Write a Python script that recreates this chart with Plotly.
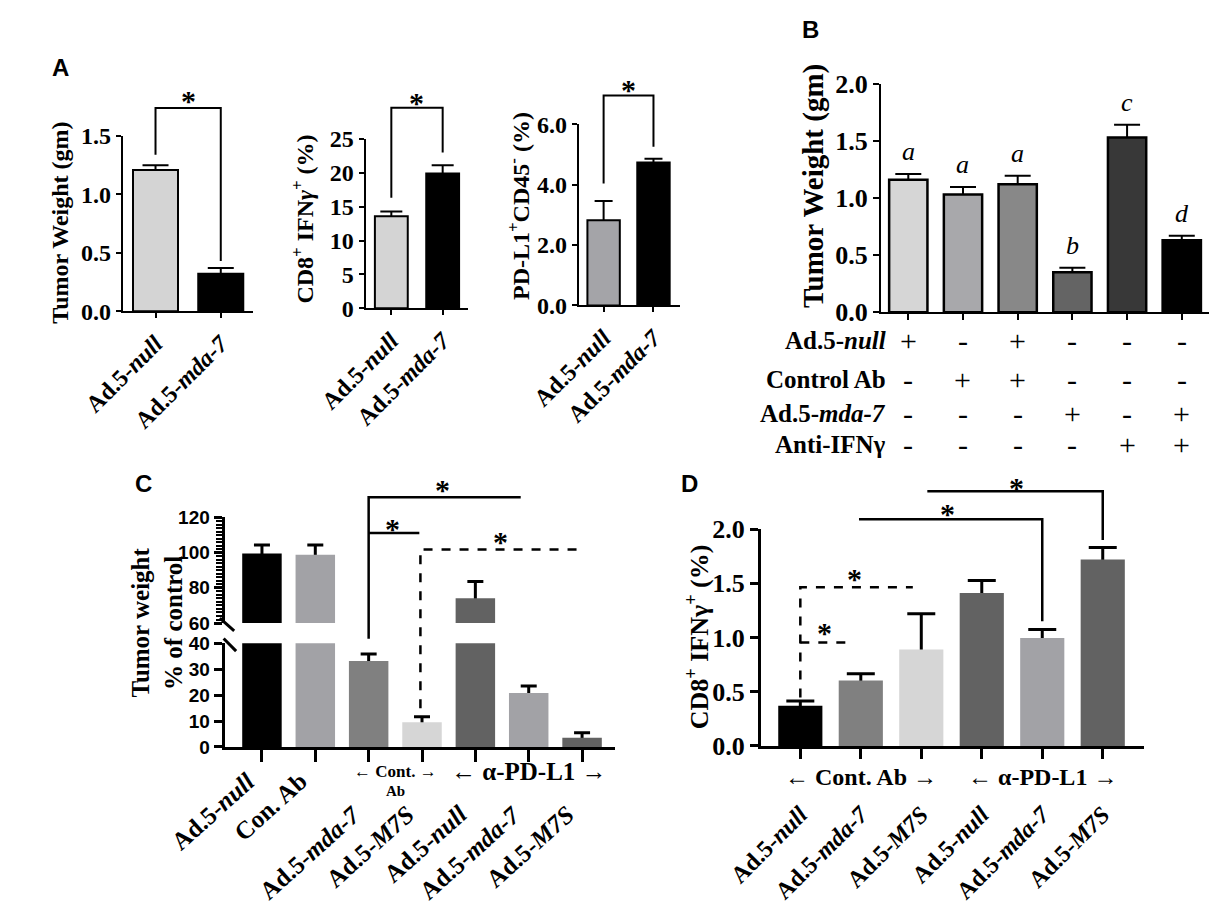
import plotly.graph_objects as go

W, H = 1212, 913
SERIF = "Liberation Serif"
SANS = "Liberation Sans"

# ---------------- data ----------------
a_groups = ["Ad.5-<i>null</i>", "Ad.5-<i>mda-7</i>"]
a_weight = [1.21, 0.32]
a_weight_err = [0.04, 0.05]
a_cd8 = [13.6, 19.9]
a_cd8_err = [0.7, 1.2]
a_pdl1 = [2.82, 4.74]
a_pdl1_err = [0.64, 0.12]

b_weight = [1.16, 1.03, 1.12, 0.35, 1.53, 0.63]
b_weight_err = [0.05, 0.065, 0.075, 0.04, 0.11, 0.04]
b_letters = ["a", "a", "a", "b", "c", "d"]
b_rows = ["Ad.5-<i>null</i>", "Control Ab", "Ad.5-<i>mda-7</i>", "Anti-IFNγ"]
b_table = [
    ["+", "-", "+", "-", "-", "-"],
    ["-", "+", "+", "-", "-", "-"],
    ["-", "-", "-", "+", "-", "+"],
    ["-", "-", "-", "-", "+", "+"],
]

c_groups = ["Ad.5-<i>null</i>", "Con. Ab", "Ad.5-<i>mda-7</i>", "Ad.5-<i>M7S</i>",
            "Ad.5-<i>null</i>", "Ad.5-<i>mda-7</i>", "Ad.5-<i>M7S</i>"]
c_pct = [99.5, 98.8, 33.2, 9.5, 74.1, 20.8, 3.6]
c_pct_err = [4.8, 5.5, 2.7, 2.2, 9.5, 2.7, 1.9]

d_groups = ["Ad.5-<i>null</i>", "Ad.5-<i>mda-7</i>", "Ad.5-<i>M7S</i>",
            "Ad.5-<i>null</i>", "Ad.5-<i>mda-7</i>", "Ad.5-<i>M7S</i>"]
d_cd8 = [0.37, 0.605, 0.89, 1.41, 0.995, 1.72]
d_cd8_err = [0.045, 0.06, 0.33, 0.115, 0.08, 0.11]

# ---------------- colours ----------------
a_colors = ["#d4d4d4", "#000000"]
a3_colors = ["#a4a4a8", "#000000"]
b_colors = ["#d6d6d6", "#a8a8ab", "#888888", "#646464", "#383838", "#000000"]
c_colors = ["#000000", "#a2a2a6", "#808080", "#d6d6d6", "#626262", "#a2a2a6", "#626262"]
d_colors = ["#000000", "#808080", "#d6d6d6", "#626262", "#a2a2a6", "#626262"]

# ---------------- panel geometry (pixels) ----------------
axes = {
    "a1": dict(xid="x", yid="y", xpx=(77, 213), ypx=(307, 126), xr=[-0.5, 1.5], yr=[0, 1.5]),
    "a2": dict(xid="x2", yid="y2", xpx=(330, 437), ypx=(304, 129), xr=[-0.5, 1.5], yr=[0, 25]),
    "a3": dict(xid="x3", yid="y3", xpx=(552, 658), ypx=(301, 114), xr=[-0.5, 1.54], yr=[0, 6]),
    "b": dict(xid="x4", yid="y4", xpx=(867, 1209), ypx=(308, 72), xr=[-0.5, 5.5], yr=[0, 2]),
    "c_lo": dict(xid="x5", yid="y5", xpx=(183, 590), ypx=(757, 650), xr=[-0.7, 6.62], yr=[0, 40]),
    "c_hi": dict(xid="x6", yid="y6", xpx=(183, 590), ypx=(629, 520), xr=[-0.7, 6.62], yr=[60, 120]),
    "d": dict(xid="x7", yid="y7", xpx=(742, 1141), ypx=(756, 532), xr=[-0.65, 5.68], yr=[0, 2]),
}


def px_x(x):
    return x / W


def px_y(y):
    return 1 - y / H


def yp(key, v):
    # data value on a panel's y scale -> paper coordinate (may lie outside the range)
    a = axes[key]
    b, t = a["ypx"]
    r0, r1 = a["yr"]
    return px_y(b - (v - r0) / (r1 - r0) * (b - t))


def font(size, family=SERIF, bold=True):
    return dict(family=family, size=size, color="black", weight="bold" if bold else "normal")


fig = go.Figure()


def add_bars(key, vals, errs, colors, bw, outline, cap, thick):
    a = axes[key]
    xs = list(range(len(vals)))
    # error bars sit behind the bars so only the upper half shows
    fig.add_trace(go.Bar(x=xs, y=vals, width=bw, marker=dict(color="rgba(0,0,0,0)", line=dict(width=0)),
                         error_y=dict(type="data", array=errs, symmetric=True, color="black",
                                      thickness=thick, width=cap),
                         xaxis=a["xid"], yaxis=a["yid"], hoverinfo="skip", showlegend=False))
    fig.add_trace(go.Bar(x=xs, y=vals, width=bw,
                         marker=dict(color=colors, line=dict(color="black", width=outline)),
                         xaxis=a["xid"], yaxis=a["yid"], showlegend=False))


add_bars("a1", a_weight, a_weight_err, a_colors, 0.69, 2, 13, 2)
add_bars("a2", a_cd8, a_cd8_err, a_colors, 0.64, 2, 11, 2)
add_bars("a3", a_pdl1, a_pdl1_err, a3_colors, 0.65, 2, 9, 2)
add_bars("b", b_weight, b_weight_err, b_colors, 0.7, 2.5, 13, 2)
add_bars("c_lo", c_pct, c_pct_err, c_colors, 0.74, 0, 8, 3)
add_bars("c_hi", c_pct, c_pct_err, c_colors, 0.74, 0, 8, 3)
add_bars("d", d_cd8, d_cd8_err, d_colors, 0.73, 0, 14, 3)

# ---------------- axes ----------------
layout_axes = {}


def set_axes(key, xkw, ykw):
    a = axes[key]
    xname = "xaxis" + a["xid"][1:]
    yname = "yaxis" + a["yid"][1:]
    layout_axes[xname] = dict(domain=[px_x(a["xpx"][0]), px_x(a["xpx"][1])], range=a["xr"],
                              anchor=a["yid"], showgrid=False, zeroline=False, **xkw)
    layout_axes[yname] = dict(domain=[px_y(a["ypx"][0]), px_y(a["ypx"][1])], range=a["yr"],
                              anchor=a["xid"], showgrid=False, zeroline=False, **ykw)


def line_kw(lw, tl, tw):
    return dict(showline=True, linecolor="black", linewidth=lw, ticks="outside",
                ticklen=tl, tickwidth=tw, tickcolor="black")


a_x = dict(line_kw(2, 5, 2), tickvals=[0, 1], ticktext=a_groups, tickangle=-45,
           tickfont=font(24), ticklabelstandoff=2)
set_axes("a1", a_x, dict(line_kw(2, 5, 2), tickvals=[0, 0.5, 1.0, 1.5], tickformat=".1f", tickfont=font(24)))
set_axes("a2", a_x, dict(line_kw(2, 5, 2), tickvals=[0, 5, 10, 15, 20, 25], tickfont=font(24)))
set_axes("a3", a_x, dict(line_kw(2, 5, 2), tickvals=[0, 2, 4, 6], tickformat=".1f", tickfont=font(24)))
set_axes("b", dict(line_kw(2, 6, 2), tickvals=list(range(6)), showticklabels=False),
         dict(line_kw(2, 6, 2), tickvals=[0, 0.5, 1.0, 1.5, 2.0], tickformat=".1f", tickfont=font(26)))
set_axes("c_lo", dict(line_kw(3, 12, 3), tickvals=list(range(7)), showticklabels=False),
         dict(line_kw(3, 8, 3), tickvals=[0, 10, 20, 30, 40], tickfont=font(19, SANS)))
set_axes("c_hi", dict(visible=False),
         dict(line_kw(3, 8, 3), tickmode="linear", tick0=60, dtick=20, tickfont=font(19, SANS),
              minor=dict(ticks="outside", tick0=60, dtick=2, ticklen=6, tickwidth=2, tickcolor="black")))
set_axes("d", dict(line_kw(3, 10, 3), tickvals=list(range(6)), ticktext=d_groups, tickangle=-45,
                   tickfont=font(24), ticklabelstandoff=32),
         dict(line_kw(3, 8, 3), tickvals=[0, 0.5, 1.0, 1.5, 2.0], tickformat=".1f", tickfont=font(26)))

# ---------------- annotations ----------------
ann = []


def note(text, x, y, size, xref="paper", yref="paper", family=SERIF, bold=True,
         angle=0, xanchor="center", yanchor="middle", yshift=0):
    ann.append(dict(text=text, x=x, y=y, xref=xref, yref=yref, showarrow=False,
                    font=font(size, family, bold), textangle=angle,
                    xanchor=xanchor, yanchor=yanchor, yshift=yshift))


# panel letters
for letter, (lx, ly) in zip("ABCD", [(12, 55), (794, 16), (98, 485), (668, 485)]):
    note(letter, px_x(lx), px_y(ly), 24, family=SANS)

# y titles
note("Tumor Weight (gm)", px_x(12), px_y(216), 24, angle=-90)
note("CD8<sup>+</sup> IFN<i>γ</i><sup>+</sup> (%)", px_x(265), px_y(212), 24, angle=-90)
note("PD-L1<sup>+</sup>CD45<sup>-</sup> (%)", px_x(489), px_y(198), 24, angle=-90)
note("Tumor Weight (gm)", px_x(797), px_y(178), 29, angle=-90)
note("Tumor weight<br>% of control", px_x(113), px_y(628), 25, angle=-90)
note("CD8<sup>+</sup> IFNγ<sup>+</sup> (%)", px_x(676), px_y(643), 26, angle=-90)

# B letters and treatment table
for i, (v, e, t) in enumerate(zip(b_weight, b_weight_err, b_letters)):
    note("<i>" + t + "</i>", i, v + e, 26, xref="x4", yref="y4", bold=False, yanchor="bottom", yshift=6)
for r, (row, ry) in enumerate(zip(b_rows, [337, 377, 413, 445])):
    note(row, px_x(874), px_y(ry), 25, xanchor="right")
    for i, s in enumerate(b_table[r]):
        note(s, i, px_y(ry), 30, xref="x4", bold=False)

# C category labels and group labels
for i, (g, drop) in enumerate(zip(c_groups, [18, 18, 52, 52, 52, 52, 52])):
    note(g, i, px_y(757 + drop), 25, xref="x5", angle=-42, xanchor="right", yanchor="top")
note("← Cont. →", 2.5, px_y(782), 17, xref="x5")
note("Ab", 2.5, px_y(803), 15, xref="x5")
note("← α-PD-L1 →", 5, px_y(782), 25, xref="x5")

# D group labels
note("← Cont. Ab →", 1, px_y(788), 24, xref="x7")
note("← α-PD-L1 →", 4, px_y(788), 24, xref="x7")

# ---------------- significance brackets ----------------
shapes = []


def bracket(points, xid, dash="solid", width=2.5):
    path = "M " + " L ".join(f"{x},{yp(k, v)}" for x, v, k in points)
    shapes.append(dict(type="path", path=path, xref=xid, yref="paper",
                       line=dict(color="black", width=width, dash=dash)))


bracket([(0, 1.34, "a1"), (0, 1.74, "a1"), (1, 1.74, "a1"), (1, 0.43, "a1")], "x", width=2)
bracket([(0, 16.3, "a2"), (0, 29.6, "a2"), (1, 29.6, "a2"), (1, 23.0, "a2")], "x2", width=2)
bracket([(0, 4.04, "a3"), (0, 6.96, "a3"), (1, 6.96, "a3"), (1, 5.26, "a3")], "x3", width=2)
bracket([(2, 41.8, "c_lo"), (2, 131.5, "c_hi"), (4.85, 131.5, "c_hi")], "x5")
bracket([(2, 111.2, "c_hi"), (2.95, 111.2, "c_hi")], "x5")
bracket([(2.97, 14.9, "c_lo"), (2.97, 101.8, "c_hi"), (5.95, 101.8, "c_hi")], "x5", dash="dash")
bracket([(0, 0.446, "d"), (0, 1.464, "d"), (1.86, 1.464, "d")], "x7", dash="dash")
bracket([(0, 0.955, "d"), (0.84, 0.955, "d")], "x7", dash="dash")
bracket([(0.97, 2.09, "d"), (4, 2.09, "d"), (4, 1.15, "d")], "x7")
bracket([(2.1, 2.35, "d"), (5, 2.35, "d"), (5, 1.90, "d")], "x7")

stars = [("a1", "x", 0.5, 1.856), ("a2", "x2", 0.5, 31.3), ("a3", "x3", 0.5, 7.35),
         ("c_hi", "x5", 3.38, 139.3), ("c_hi", "x5", 2.45, 117.2), ("c_hi", "x5", 4.48, 110.0),
         ("d", "x7", 2.44, 2.2), ("d", "x7", 3.57, 2.44), ("d", "x7", 0.9, 1.6), ("d", "x7", 0.4, 1.1)]
for key, xid, sx, sy in stars:
    note("*", sx, yp(key, sy), 30, xref=xid, yshift=-6)

# broken-axis marks on C
ax_c = axes["c_lo"]["xpx"][0]
for (x0, y0, x1, y1) in [(ax_c - 5, 624, ax_c + 10, 637), (ax_c - 1, 645, ax_c + 12, 658)]:
    shapes.append(dict(type="line", xref="paper", yref="paper", x0=px_x(x0), y0=px_y(y0),
                       x1=px_x(x1), y1=px_y(y1), line=dict(color="black", width=3)))

fig.update_layout(
    width=W, height=H, margin=dict(l=0, r=0, t=0, b=0),
    paper_bgcolor="white", plot_bgcolor="white",
    barmode="overlay", showlegend=False,
    annotations=ann, shapes=shapes,
    **layout_axes,
)

fig.write_html("out.html", config={"displayModeBar": False},
               post_script="document.body.style.margin='0px';")
